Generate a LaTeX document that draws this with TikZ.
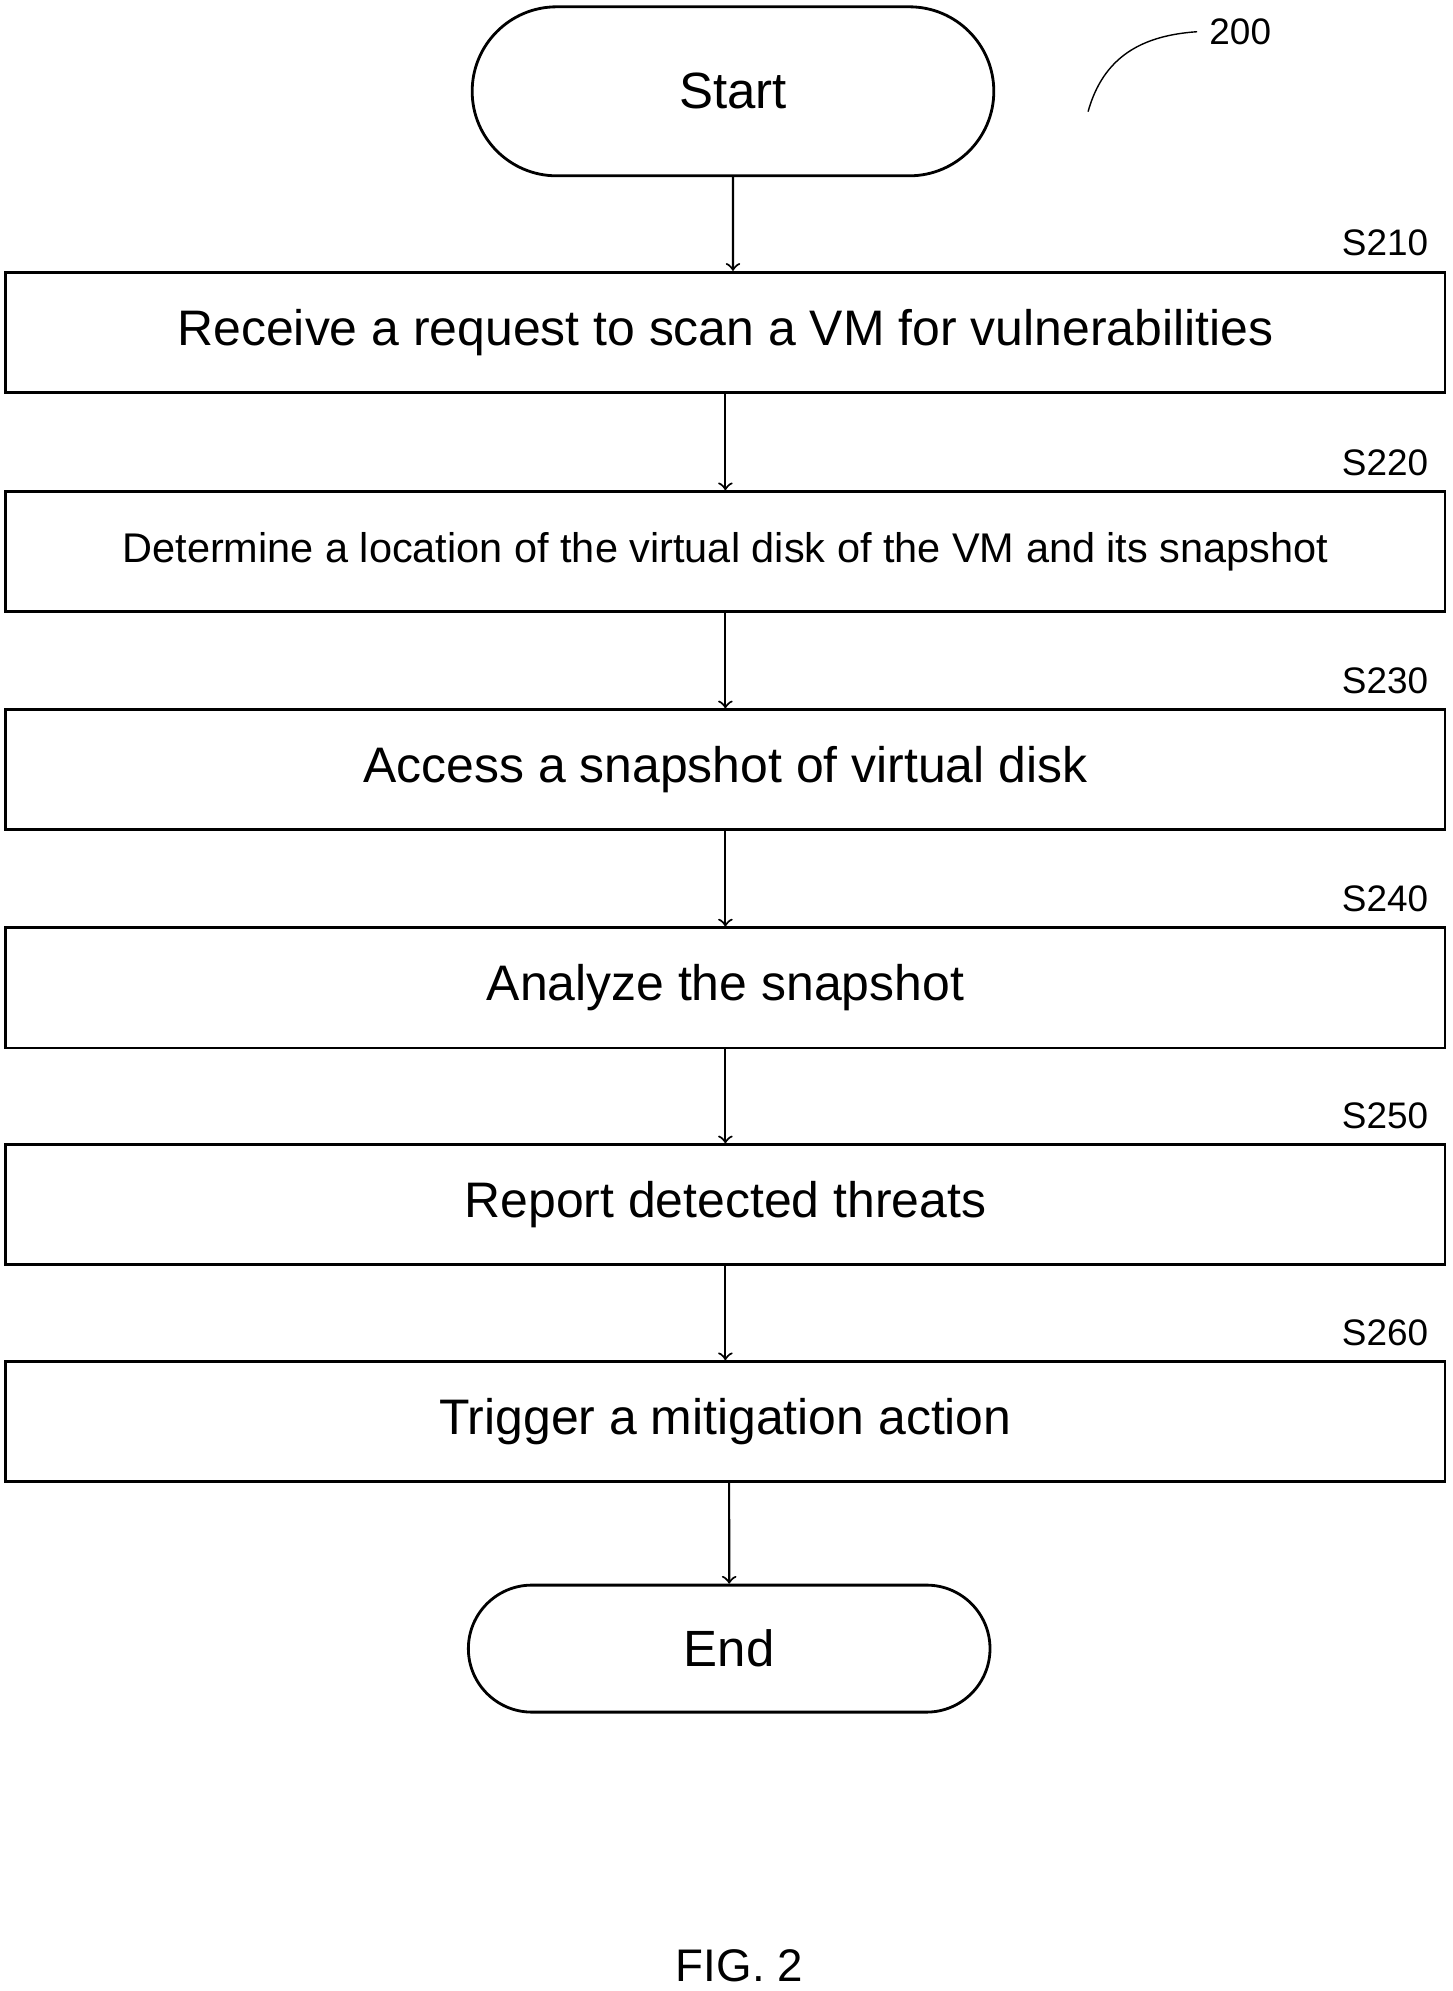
\documentclass[tikz,border=0pt]{standalone}
\usepackage{fontspec}
\setmainfont{Liberation Sans}
\usetikzlibrary{shapes.misc,positioning}
\tikzset{
  term/.style={draw, thick, rounded rectangle, minimum width=5.45cm, font=\fontsize{14.5}{17}\selectfont},
  proc/.style={draw, thick, minimum width=14.39cm, minimum height=1.2cm, font=\fontsize{14.2}{17}\selectfont},
  lbl/.style={anchor=south east, inner sep=1pt, font=\fontsize{10.5}{12}\selectfont},
  flow/.style={-to, semithick}
}
\begin{document}
\begin{tikzpicture}[x=0.01268cm, y=-0.01268cm]
\useasboundingbox (0,0) rectangle (1145,1570);

  % Terminals
\node[term, minimum height=1.69cm] (start) at (578,72) {Start};
\node[term, minimum height=1.27cm] (end) at (575,1300) {End};

  % Steps
\node[proc] (s210) at (572,262) {Receive a request to scan a VM for vulnerabilities};
\node[proc, font=\fontsize{11.8}{14}\selectfont] (s220) at (572,435) {Determine a location of the virtual disk of the VM and its snapshot};
\node[proc] (s230) at (572,607) {Access a snapshot of virtual disk};
\node[proc] (s240) at (572,779) {Analyze the snapshot};
\node[proc] (s250) at (572,950) {Report detected threats};
\node[proc] (s260) at (572,1121) {Trigger a mitigation action};

  % Step labels
\foreach \s in {210,220,230,240,250,260}
  \node[lbl] at ([xshift=-4pt,yshift=3pt]s\s.north east) {S\s};

  % Connect the nodes
\draw[flow] (start) -- (start |- s210.north);
\draw[flow] (s210) -- (s220);
\draw[flow] (s220) -- (s230);
\draw[flow] (s230) -- (s240);
\draw[flow] (s240) -- (s250);
\draw[flow] (s250) -- (s260);
\draw[flow] (s260.south -| end) -- (end);

  % Reference numeral
\node[font=\fontsize{10.5}{12}\selectfont] (ref) at (978,25) {200};
\draw (858,88) .. controls (870,45) and (900,28) .. (ref.west);

\node[font=\fontsize{13}{15}\selectfont] (fig) at (583,1550) {FIG. 2};
\end{tikzpicture}
\end{document}
